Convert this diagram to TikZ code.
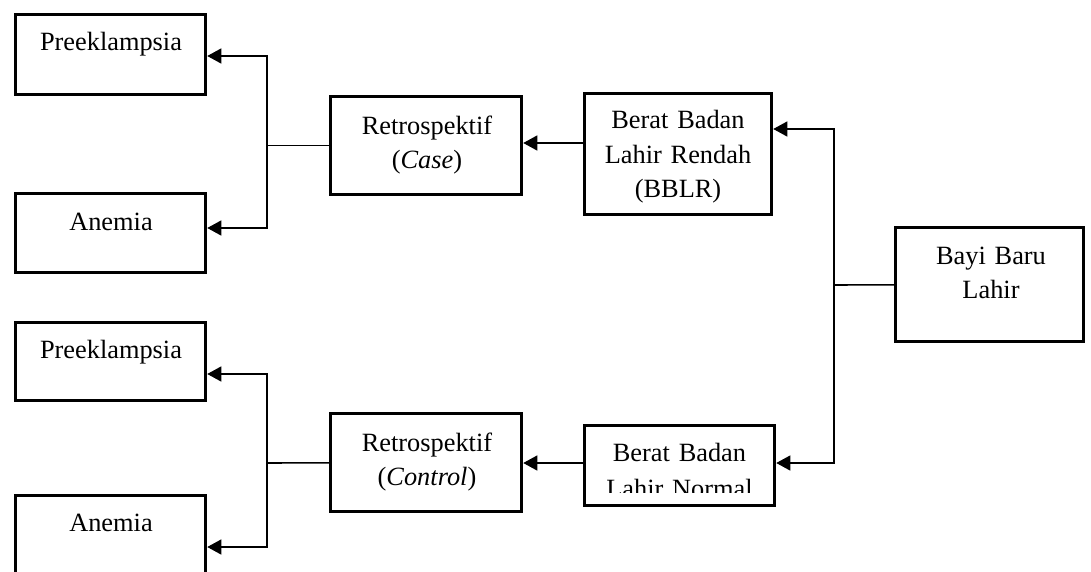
\documentclass[tikz,border=0pt]{standalone}
\usepackage{fontspec}
\setmainfont{Liberation Serif}
\usepackage{tikz}
\usetikzlibrary{arrows.meta,calc}
\tikzset{
 box/.style={draw,line width=2pt,inner sep=0pt,minimum width=3.8cm,minimum height=1.6cm},
 txt/.style={anchor=base,inner sep=0pt,text width=3.6cm,align=center,font=\fontsize{15}{19.5}\selectfont},
 link/.style={line width=0.9pt},
 arr/.style={line width=0.9pt,-{Triangle[length=8pt,width=8.5pt]}}
}

\begin{document}
\begin{tikzpicture}[x=0.02cm,y=-0.02cm]
\useasboundingbox (0,0) rectangle (1091,571);
% boxes
\node[box] (pre1) at (110.5,54.5) {};
\node[box,minimum height=1.58cm] (ane1) at (110.5,233) {};
\node[box,minimum height=1.56cm] (pre2) at (110.5,361.5) {};
\node[box,minimum height=1.58cm] (ane2) at (110.5,535) {};
\node[box,minimum width=3.82cm,minimum height=1.96cm] (retro1) at (426,145.5) {};
\node[box,minimum width=3.82cm,minimum height=1.96cm] (retro2) at (426,462.5) {};
\node[box,minimum width=3.74cm,minimum height=2.42cm] (bblr) at (678,154) {};
\node[box] (norm) at (679.5,465.5) {};
\node[box,minimum width=3.76cm,minimum height=2.28cm] (bayi) at (989.5,284.5) {};
% texts
\node[txt] (pre1t) at (111,51) {Preeklampsia};
\node[txt] (ane1t) at (111,230) {Anemia};
\node[txt] (pre2t) at (111,358) {Preeklampsia};
\node[txt] (ane2t) at (111,531) {Anemia};
\node[txt] (retro1t) at (427,134) {Retrospektif\\(\textit{Case})};
\node[txt] (retro2t) at (427,451) {Retrospektif\\(\textit{Control})};
\node[txt] (bblrt) at (678,129) {Berat Badan\\Lahir Rendah\\(BBLR)};
\begin{scope}
\clip (norm.north west) rectangle (776,492);
\node[txt] (normt) at (679.5,461) {Berat Badan\\[1pt]Lahir Normal};
\end{scope}
\node[txt] (bayit) at (991,264) {Bayi Baru\\Lahir};
% junctions
\coordinate (j1) at (267,145.5);
\coordinate (j2) at (267,463);
\coordinate (j3) at (834,285);
% connectors
\draw[link] (retro1) -- (j1);
\draw[arr] (j1) |- ($(pre1.east)+(0,1.5)$);
\draw[arr] (j1) |- ($(ane1.east)+(0,-5)$);
\draw[link] (retro2) -- (j2);
\draw[arr] (j2) |- ($(pre2.east)+(0,12.5)$);
\draw[arr] (j2) |- ($(ane2.east)+(0,12)$);
\draw[arr] ($(bblr.west)+(0,-11)$) -- ($(retro1.east)+(0,-2.5)$);
\draw[arr] ($(norm.west)+(0,-2.5)$) -- ($(retro2.east)+(0,0.5)$);
\draw[link] (bayi) -- (j3);
\draw[arr] (j3) |- ($(bblr.east)+(0,-25)$);
\draw[arr] (j3) |- ($(norm.east)+(0,-2.5)$);
\end{tikzpicture}
\end{document}
